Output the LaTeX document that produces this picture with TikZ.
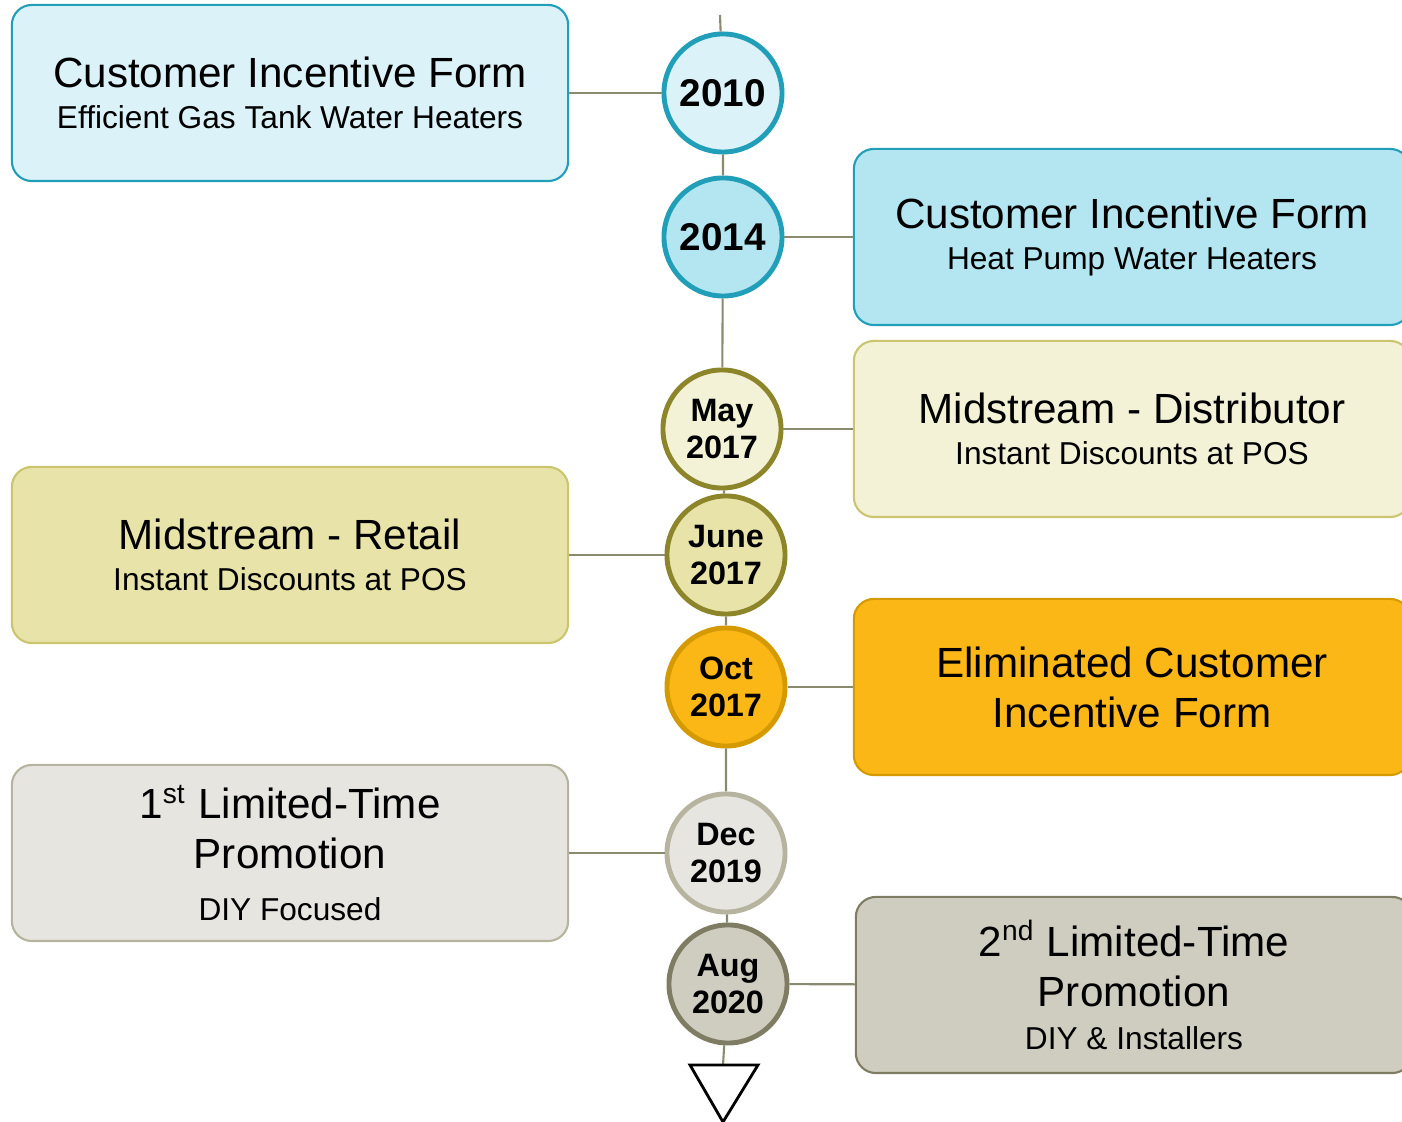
\documentclass[tikz,border=0pt]{standalone}
\usepackage{fontspec}
\setmainfont{Liberation Sans}
\usetikzlibrary{positioning}

\definecolor{tealline}{HTML}{229FB8}
\definecolor{cyanlight}{HTML}{DAF2F8}
\definecolor{cyanmid}{HTML}{B3E6F1}
\definecolor{creamfill}{HTML}{F3F1D6}
\definecolor{creamline}{HTML}{CBC56F}
\definecolor{olivefill}{HTML}{E8E3A9}
\definecolor{oliveline}{HTML}{8C8529}
\definecolor{amberfill}{HTML}{FBB715}
\definecolor{amberline}{HTML}{D59A00}
\definecolor{greyfill}{HTML}{E6E5DF}
\definecolor{greyline}{HTML}{B6B49F}
\definecolor{taupefill}{HTML}{CFCDBF}
\definecolor{taupeline}{HTML}{7E7C62}
\definecolor{railcol}{HTML}{8A8A70}

\newcommand{\boxtitle}{\fontsize{12}{14.2}\selectfont}
\newcommand{\boxsub}{\fontsize{9}{11}\selectfont}
\newcommand{\yearbig}{\fontsize{11}{13}\selectfont\bfseries}
\newcommand{\yearsmall}{\fontsize{9.2}{10.5}\selectfont\bfseries}

\tikzset{
  event/.style={draw, line width=0.6pt, rounded corners=0.2cm,
    minimum width=5.56cm, minimum height=1.76cm, align=center,
    inner sep=0pt, font=\boxtitle},
  stamp/.style={circle, draw, line width=1.4pt, minimum size=1.18cm,
    inner sep=0pt, align=center, font=\yearsmall},
  rail/.style={draw=railcol, line width=0.6pt},
}

\begin{document}
\begin{tikzpicture}[x=0.01cm, y=-0.01cm]
  \useasboundingbox (0,0) rectangle (1402,1122);
  \clip (0,0) rectangle (1402,1122);
  % Milestones on the time axis
  \node[stamp, draw=tealline, fill=cyanlight, font=\yearbig] (y2010) at (723,93) {2010};
  \node[stamp, draw=tealline, fill=cyanmid, font=\yearbig] (y2014) at (723,237) {2014};
  \node[stamp, draw=oliveline, fill=creamfill] (may17) at (722,429) {May\\2017};
  \node[stamp, draw=oliveline, fill=olivefill] (jun17) at (726,555) {June\\2017};
  \node[stamp, draw=amberline, fill=amberfill] (oct17) at (726,687) {Oct\\2017};
  \node[stamp, draw=greyline, fill=greyfill] (dec19) at (726,853) {Dec\\2019};
  \node[stamp, draw=taupeline, fill=taupefill] (aug20) at (728,984) {Aug\\2020};
  % Event boxes, left and right of the axis
  \node[event, draw=tealline, fill=cyanlight] (cif) at (290,93)
    {Customer Incentive Form\\[-2.6pt]\boxsub Efficient Gas Tank Water Heaters};
  \node[event, draw=tealline, fill=cyanmid] (hpwh) at (1132,237)
    {Customer Incentive Form\\[-2.6pt]\boxsub Heat Pump Water Heaters};
  \node[event, draw=creamline, fill=creamfill] (dist) at (1132,429)
    {Midstream - Distributor\\[-2.6pt]\boxsub Instant Discounts at POS};
  \node[event, draw=creamline, fill=olivefill] (retail) at (290,555)
    {Midstream - Retail\\[-2.6pt]\boxsub Instant Discounts at POS};
  \node[event, draw=amberline, fill=amberfill] (elim) at (1132,687)
    {Eliminated Customer\\Incentive Form};
  \node[event, draw=greyline, fill=greyfill] (ltp1) at (290,853)
    {1\textsuperscript{st} Limited-Time\\Promotion\\[0.6pt]\boxsub DIY Focused};
  \node[event, draw=taupeline, fill=taupefill] (ltp2) at (1134,985)
    {2\textsuperscript{nd} Limited-Time\\Promotion\\[-2pt]\boxsub DIY \& Installers};
  % The axis itself, ending in an open triangle
  \coordinate (start) at (720,15);
  \coordinate (tipl) at (690,1065);
  \coordinate (tipr) at (758,1065);
  \coordinate (tip) at (723,1122);
  \coordinate (tiptop) at (723,1065);
  \draw[rail] (start) -- (y2010) -- (y2014) -- (may17) -- (jun17)
    -- (oct17) -- (dec19) -- (aug20) -- (tiptop);
  \draw[line width=0.8pt, fill=white] (tipl) -- (tipr) -- (tip) -- cycle;
  % Connect each box to its milestone
  \draw[rail] (cif) -- (y2010);
  \draw[rail] (hpwh) -- (y2014);
  \draw[rail] (dist) -- (may17);
  \draw[rail] (retail) -- (jun17);
  \draw[rail] (elim) -- (oct17);
  \draw[rail] (ltp1) -- (dec19);
  \draw[rail] (ltp2) -- (aug20);
\end{tikzpicture}
\end{document}
